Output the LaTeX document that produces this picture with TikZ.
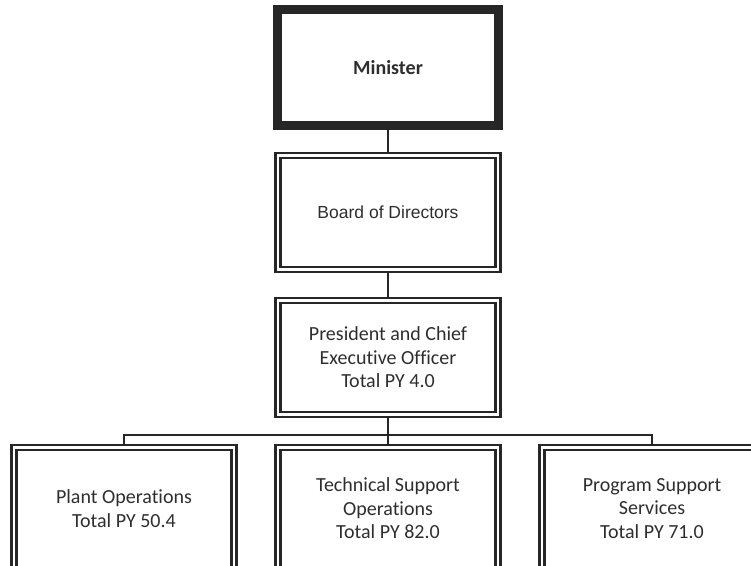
\documentclass[tikz,border=0pt]{standalone}
\usepackage{fontspec}
\setmainfont{Carlito}[Ligatures=NoCommon]
\newfontfamily\arialfont{Liberation Sans}
\usetikzlibrary{positioning}
\definecolor{linegray}{HTML}{262626}
\definecolor{textgray}{HTML}{2E2E2E}
\tikzset{topnode/.style={rectangle, draw=linegray, line width=9pt, minimum width=221pt, minimum height=116pt, text=textgray, font=\fontsize{20}{24}\selectfont\bfseries},
orgnode/.style={rectangle, draw=linegray, line width=2.5pt, double, double distance=2.5pt, minimum width=220pt, minimum height=114pt, align=center, text=textgray, font=\fontsize{20}{23.5}\selectfont},
link/.style={draw=linegray, line width=1.6pt},}

\begin{document}
\begin{tikzpicture}[node distance=145pt, x=1pt, y=1pt]
\useasboundingbox (0,0) rectangle (751,565);
\clip (0,0) rectangle (751,565);
\node [topnode] (minister) at (388,497.5) {Minister};
\node [orgnode] (board) [below of=minister] {\arialfont\fontsize{17.5}{21}\selectfont Board of Directors};
\node [orgnode] (president) [below of=board] {President and Chief\\Executive Officer\\Total PY 4.0};
\node [orgnode, minimum height=122pt] (tso) [below of=president, node distance=151pt] {Technical Support\\Operations\\Total PY 82.0};
\node [orgnode, minimum height=122pt] (plant) [left of=tso, node distance=264pt] {Plant Operations\\Total PY 50.4};
\node [orgnode, minimum height=122pt] (pss) [right of=tso, node distance=264pt] {Program Support\\Services\\Total PY 71.0};
\coordinate (bus) at ([yshift=11pt]tso.north);
\draw[link] (minister) -- (board);
\draw[link] (board) -- (president);
\draw[link] (president) -- (tso);
\draw[link] (plant.north) |- (bus) -| (pss.north);
\end{tikzpicture}
\end{document}
